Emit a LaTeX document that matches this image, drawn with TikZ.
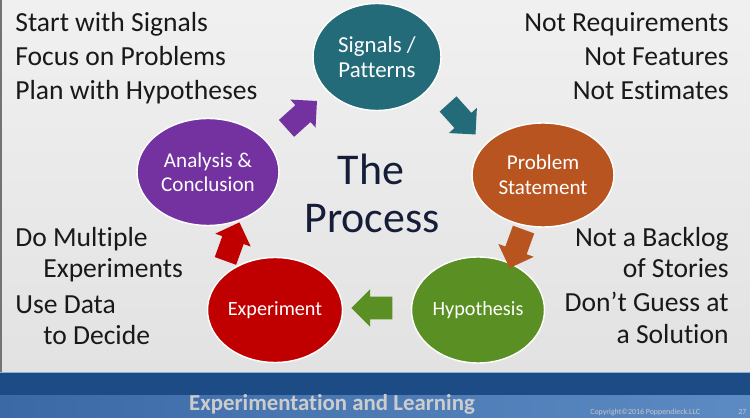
\documentclass[tikz,border=0pt]{standalone}
\usepackage{fontspec}
\setmainfont{Carlito}[Ligatures=NoCommon]
\usetikzlibrary{shapes.geometric,shapes.arrows,calc}
\definecolor{teal1}{HTML}{236B78}
\definecolor{rust}{HTML}{B8541F}
\definecolor{leaf}{HTML}{5A8F24}
\definecolor{crimson}{HTML}{C00000}
\definecolor{plum}{HTML}{7332A0}
\definecolor{navy}{HTML}{161D38}
\definecolor{paper}{HTML}{E2E2E2}
\definecolor{band}{HTML}{1C4B86}
\definecolor{bandlo}{HTML}{3A69A6}
\definecolor{bandhi}{HTML}{5C8BC3}
\tikzset{
  stage/.style={ellipse, draw=white, line width=0.8pt, text=white, inner sep=0pt, align=center},
  flow/.style={single arrow, draw=none, inner xsep=0pt, inner ysep=0.22cm, minimum height=0.82cm,
    single arrow head extend=0.15cm, single arrow head indent=0pt},
  note/.style={inner sep=0pt, text=black!90, font=\fontsize{15.7}{18}\selectfont}
}
\begin{document}
\begin{tikzpicture}[x=0.02cm, y=-0.02cm]
    \useasboundingbox (0,0) rectangle (750,418);
    \fill[top color=paper!50!white, bottom color=paper] (0,0) rectangle (750,372);
    \fill[black!55] (0,0) rectangle (1.5,372);
    \fill[band] (0,372) rectangle (750,395);
    \shade[left color=bandlo, right color=bandhi] (0,395) rectangle (750,418);
    \draw[bandhi!70!white, line width=0.6pt] (0,372.5) -- (750,372.5);

    \node[stage, fill=teal1, minimum width=2.56cm, minimum height=2.14cm, font=\fontsize{13}{14}\selectfont] (sig) at (377,57) {Signals /\\Patterns};
    \node[stage, fill=rust, minimum width=2.84cm, minimum height=2.08cm, font=\fontsize{12}{14}\selectfont] (prob) at (543,175) {Problem\\Statement};
    \node[stage, fill=leaf, minimum width=2.66cm, minimum height=2.12cm, font=\fontsize{11.5}{13}\selectfont] (hyp) at (478,310) {Hypothesis};
    \node[stage, fill=crimson, minimum width=2.7cm, minimum height=2.1cm, font=\fontsize{11.5}{13}\selectfont] (exp) at (275,310) {Experiment};
    \node[stage, fill=plum, minimum width=2.84cm, minimum height=2.14cm, font=\fontsize{12}{13.6}\selectfont] (ana) at (208,172) {Analysis \&\\Conclusion};

    \node[flow, fill=plum, rotate=42] (a1) at ($(ana)!0.5!(sig)+(5,4)$) {};
    \node[flow, fill=teal1, rotate=-48] (a2) at ($(sig)!0.5!(prob)+(-2,-1)$) {};
    \node[flow, fill=rust, rotate=-110] (a3) at ($(prob)!0.5!(hyp)+(8,1)$) {};
    \node[flow, fill=leaf, rotate=180] (a4) at ($(hyp)!0.5!(exp)+(1,-2)$) {};
    \node[flow, fill=crimson, rotate=70] (a5) at ($(exp)!0.5!(ana)+(-11,6)$) {};

    \node[font=\fontsize{25}{30}\selectfont, text=navy, anchor=base] (the) at (371,185) {The};
    \node[font=\fontsize{25}{30}\selectfont, text=navy, anchor=base] (proc) at (372,233) {Process};

    \node[note, anchor=base west] (l1) at (15,32) {Start with Signals};
    \node[note, anchor=base west] (l2) at (15,66) {Focus on Problems};
    \node[note, anchor=base west] (l3) at (15,100) {Plan with Hypotheses};
    \node[note, anchor=base east] (r1) at (729,32) {Not Requirements};
    \node[note, anchor=base east] (r2) at (729,66) {Not Features};
    \node[note, anchor=base east] (r3) at (729,100) {Not Estimates};

    \node[note, anchor=base west] (l4) at (15,247) {Do Multiple};
    \node[note, anchor=base west] (l5) at (43,278) {Experiments};
    \node[note, anchor=base west] (l6) at (15,314) {Use Data};
    \node[note, anchor=base west] (l7) at (43,344) {to Decide};
    \node[note, anchor=base east] (r4) at (729,247) {Not a Backlog};
    \node[note, anchor=base east] (r5) at (729,278) {of Stories};
    \node[note, anchor=base east] (r6) at (729,312) {Don’t Guess at};
    \node[note, anchor=base east] (r7) at (729,343) {a Solution};

    \node[font=\bfseries\fontsize{13}{15}\selectfont, text=black!20, anchor=base] (foot) at (332,410) {Experimentation and Learning};
    \node[font=\fontsize{4.5}{5}\selectfont, text=black!22, anchor=base west, inner sep=0pt] (copy) at (590,414) {Copyright©2016 Poppendieck.LLC};
    \node[font=\fontsize{4.5}{5}\selectfont, text=black!22, anchor=base west, inner sep=0pt] (page) at (738,414) {27};
\end{tikzpicture}
\end{document}
